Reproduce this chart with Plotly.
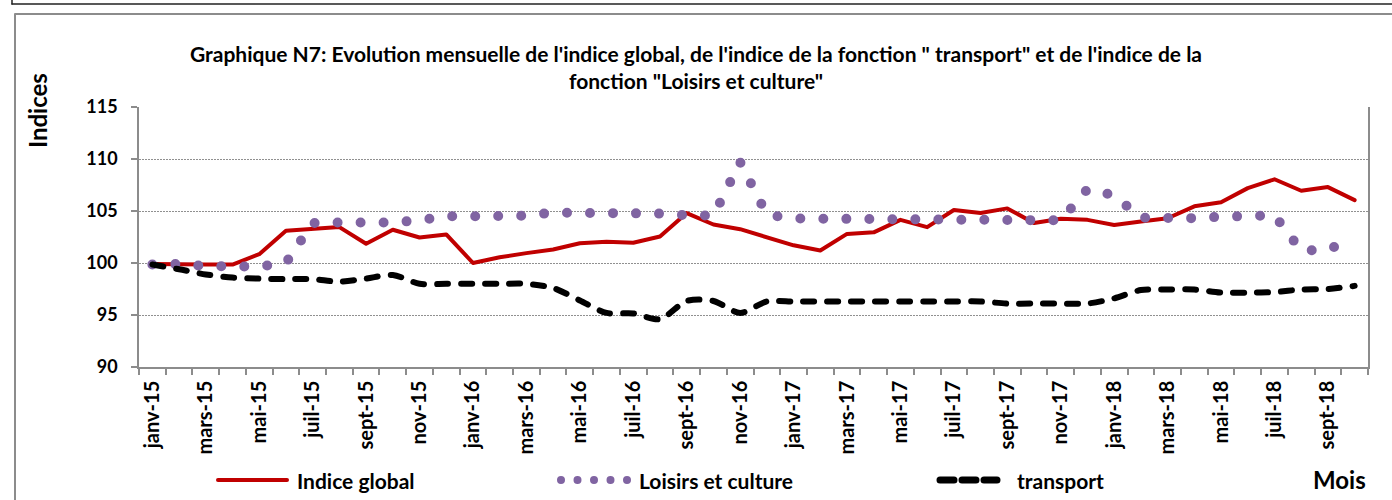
import plotly.graph_objects as go

# ---------------- data ----------------
months = ["janv", "févr", "mars", "avr", "mai", "juin",
          "juil", "août", "sept", "oct", "nov", "déc"]
years = ["15", "16", "17", "18"]
categories = [f"{m}-{y}" for y in years for m in months][:46]  # janv-15 .. oct-18

indice_global = [99.9, 99.85, 99.85, 99.85, 100.85, 103.1, 103.25, 103.45, 101.85, 103.2,
                 102.45, 102.75, 100.0, 100.55, 100.95, 101.3, 101.9, 102.05, 101.95, 102.55,
                 104.8, 103.7, 103.25, 102.5, 101.7, 101.2, 102.8, 102.95, 104.15, 103.45,
                 105.1, 104.8, 105.25, 103.85, 104.25, 104.15, 103.65, 104.0, 104.3, 105.45,
                 105.85, 107.2, 108.05, 106.95, 107.3, 106.05]

loisirs_culture = [99.85, 99.9, 99.7, 99.75, 99.65, 100.0, 103.85, 103.9, 103.87, 103.9,
                   104.1, 104.5, 104.5, 104.5, 104.55, 104.85, 104.88, 104.88, 104.88, 104.75,
                   104.6, 104.55, 109.7, 104.65, 104.28, 104.25, 104.25, 104.25, 104.2, 104.06,
                   104.06, 104.09, 104.1, 104.1, 104.1, 107.1, 106.5, 104.35, 104.3, 104.31,
                   104.45, 104.47, 104.57, 101.2, 101.25, 102.5]

transport = [99.85, 99.4, 98.9, 98.6, 98.5, 98.45, 98.45, 98.2, 98.5, 98.85,
             98.0, 98.0, 98.0, 98.0, 98.0, 97.6, 96.4, 95.2, 95.15, 94.6,
             96.35, 96.35, 95.2, 96.3, 96.3, 96.3, 96.3, 96.3, 96.3, 96.3,
             96.3, 96.3, 96.1, 96.1, 96.1, 96.1, 96.6, 97.4, 97.45, 97.45,
             97.15, 97.15, 97.2, 97.45, 97.5, 97.8]

tick_labels = [c if i % 2 == 0 else "" for i, c in enumerate(categories)]
y_ticks = [90, 95, 100, 105, 110, 115]

series_names = ["Indice global", "Loisirs et culture", "transport"]

# ---------------- styles ----------------
RED = "#C00000"
PURPLE = "#8064A2"
BLACK = "#000000"
FONT = "Lato"

W, H = 1392, 500
ML, MR, MT, MB = 139, 24, 107, 133
PW, PH = W - ML - MR, H - MT - MB


def px_x(p):
    return (p - ML) / PW


def px_y(p):
    return (H - MB - p) / PH


fig = go.Figure()
fig.add_trace(go.Scatter(x=categories, y=indice_global, name=series_names[0], mode="lines",
                         line=dict(color=RED, width=4), showlegend=False))
fig.add_trace(go.Scatter(x=categories, y=loisirs_culture, name=series_names[1], mode="lines",
                         line=dict(color=PURPLE, width=10, dash="0px,23px"), showlegend=False))
fig.add_trace(go.Scatter(x=categories, y=transport, name=series_names[2], mode="lines",
                         line=dict(color=BLACK, width=6, dash="11px,13px", shape="spline",
                                   smoothing=0.8), showlegend=False))

shapes = [
    # chart-area border (gray)
    dict(type="rect", xref="paper", yref="paper", x0=px_x(15), x1=px_x(1410),
         y0=px_y(14), y1=px_y(520), line=dict(color="#8c8c8c", width=2), layer="below"),
    # outer black frame pieces
    dict(type="line", xref="paper", yref="paper", x0=px_x(12), x1=px_x(1410),
         y0=px_y(4), y1=px_y(4), line=dict(color="#222", width=1.5)),
    dict(type="line", xref="paper", yref="paper", x0=px_x(12), x1=px_x(12),
         y0=px_y(-5), y1=px_y(4), line=dict(color="#222", width=1.5)),
    # legend samples
    dict(type="line", xref="paper", yref="paper", x0=px_x(218), x1=px_x(287),
         y0=px_y(480), y1=px_y(480), line=dict(color=RED, width=4)),
    dict(type="line", xref="paper", yref="paper", x0=px_x(561), x1=px_x(627.5),
         y0=px_y(480), y1=px_y(480), line=dict(color=PURPLE, width=8, dash="0px,16.5px")),
    dict(type="line", xref="paper", yref="paper", x0=px_x(940), x1=px_x(997),
         y0=px_y(480), y1=px_y(480), line=dict(color=BLACK, width=7, dash="14px,8px")),
]

leg_font = dict(family=FONT, size=21, color="black", weight="bold")
annotations = [
    dict(text=series_names[0], x=px_x(295), y=px_y(480), xref="paper", yref="paper",
         xanchor="left", yanchor="middle", showarrow=False, font=leg_font),
    dict(text=series_names[1], x=px_x(637), y=px_y(480), xref="paper", yref="paper",
         xanchor="left", yanchor="middle", showarrow=False, font=leg_font),
    dict(text=series_names[2], x=px_x(1015), y=px_y(480), xref="paper", yref="paper",
         xanchor="left", yanchor="middle", showarrow=False, font=leg_font),
    dict(text="Mois", x=1.0, y=px_y(479), xref="paper", yref="paper",
         xanchor="right", yanchor="middle", showarrow=False,
         font=dict(family=FONT, size=24, color="black", weight="bold")),
    dict(text="Indices", x=px_x(38), y=px_y(111), xref="paper", yref="paper",
         xanchor="center", yanchor="middle", showarrow=False, textangle=-90,
         font=dict(family=FONT, size=24, color="black", weight="bold")),
]

fig.update_layout(
    width=W, height=H,
    margin=dict(l=ML, r=MR, t=MT, b=MB),
    paper_bgcolor="white", plot_bgcolor="white",
    title=dict(
        text="Graphique N7: Evolution mensuelle de l'indice global, de l'indice de la fonction \" transport\" et de l'indice de la<br>fonction \"Loisirs et culture\"",
        x=0.5, xref="container", xanchor="center",
        y=1 - 62 / H, yref="container", yanchor="middle",
        font=dict(family=FONT, size=21, color="black", weight="bold"),
    ),
    shapes=shapes,
    annotations=annotations,
    showlegend=False,
)

fig.update_xaxes(
    type="category", categoryorder="array", categoryarray=categories,
    tickmode="array", tickvals=categories, ticktext=tick_labels,
    tickson="boundaries", ticks="outside", ticklen=6, tickcolor="#8c8c8c", tickwidth=1.5,
    tickangle=-90, ticklabelstandoff=4,
    tickfont=dict(family=FONT, size=20, color="black", weight="bold"),
    showline=True, linecolor="#8c8c8c", linewidth=1.5, showgrid=False,
    range=[-0.5, len(categories) - 0.5], zeroline=False,
)
fig.update_yaxes(
    range=[90, 115], tickmode="array", tickvals=y_ticks,
    ticks="outside", ticklen=6, tickcolor="#8c8c8c", tickwidth=1.5,
    ticklabelstandoff=10,
    tickfont=dict(family=FONT, size=18, color="black", weight="bold"),
    showline=True, linecolor="#8c8c8c", linewidth=1.5, mirror=True,
    showgrid=True, gridcolor="#909090", gridwidth=1.2, griddash="1.5px,1.5px",
    zeroline=False,
)

post = """
document.body.style.margin = '0';
document.body.style.padding = '0';
var gd = document.getElementById('{plot_id}');
gd.querySelectorAll('.scatterlayer path.js-line, .shapelayer path').forEach(function(p){
  p.style.strokeLinecap = 'round';
  p.style.strokeLinejoin = 'round';
});
"""

fig.write_html("out.html", post_script=post, config={"displayModeBar": False})
